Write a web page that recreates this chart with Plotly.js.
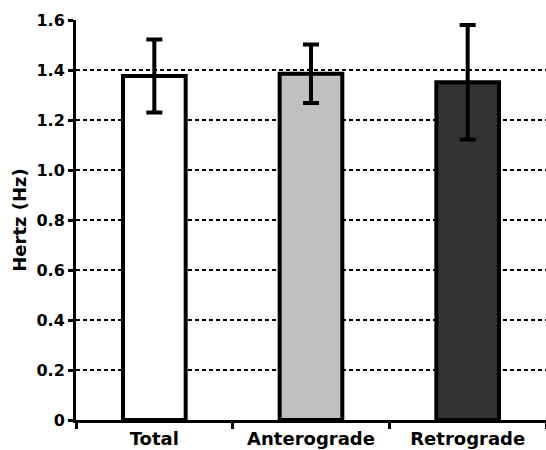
<!DOCTYPE html>
<html>
<head>
<meta charset="utf-8">
<script src="https://cdn.plot.ly/plotly-3.0.1.min.js"></script>
<style>
  html, body { margin: 0; padding: 0; background: #fff; }
  #chart { width: 546px; height: 450px; }
</style>
</head>
<body>
<div id="chart"></div>
<script>
// Mean firing frequency per transport direction, with error bars
const categories = ["Total", "Anterograde", "Retrograde"];
const meanHz = [1.376, 1.385, 1.351];
const errHz = [0.146, 0.117, 0.229];
const barColors = ["#ffffff", "#c0c0c0", "#333333"];
const yTickVals = [0, 0.2, 0.4, 0.6, 0.8, 1.0, 1.2, 1.4, 1.6];
const yTickText = ["0", "0.2", "0.4", "0.6", "0.8", "1.0", "1.2", "1.4", "1.6"];

const font = { family: "DejaVu Sans, Verdana, sans-serif", color: "#000", weight: "bold" };

const trace = {
  type: "bar",
  x: categories,
  y: meanHz,
  width: 0.4,
  marker: { color: barColors, line: { color: "#000", width: 4 } },
  error_y: { type: "data", array: errHz, visible: true, color: "#000", thickness: 4, width: 8 },
  hoverinfo: "skip"
};

const layout = {
  width: 546,
  height: 450,
  margin: { l: 76, r: 0, t: 20, b: 30 },
  paper_bgcolor: "#fff",
  plot_bgcolor: "#fff",
  showlegend: false,
  font: Object.assign({ size: 15 }, font),
  xaxis: {
    type: "category",
    showline: true, linecolor: "#000", linewidth: 3,
    ticks: "outside", tickson: "boundaries", ticklen: 6, tickwidth: 3, tickcolor: "#000",
    tickfont: Object.assign({ size: 18 }, font),
    showgrid: false, zeroline: false
  },
  yaxis: {
    range: [0, 1.6],
    tickvals: yTickVals, ticktext: yTickText,
    showline: true, linecolor: "#000", linewidth: 3,
    ticks: "outside", ticklen: 5, tickwidth: 3, tickcolor: "#000",
    tickfont: Object.assign({ size: 16 }, font),
    showgrid: true, gridcolor: "#000", gridwidth: 2, griddash: "4px,3px",
    zeroline: false,
    title: { text: "Hertz (Hz)", font: Object.assign({ size: 18 }, font), standoff: 6 }
  },
  bargap: 0.6
};

Plotly.newPlot("chart", [trace], layout, { staticPlot: true, displayModeBar: false });
</script>
</body>
</html>
